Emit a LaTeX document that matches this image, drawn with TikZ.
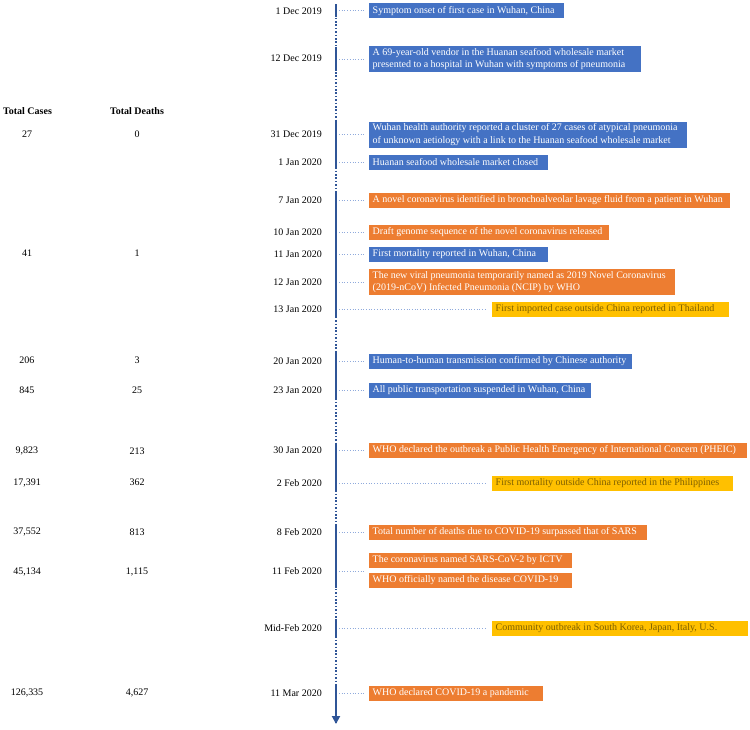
\documentclass[tikz,border=0pt]{standalone}
\usepackage{fontspec}
\setmainfont{Liberation Serif}
\usetikzlibrary{arrows.meta}
\definecolor{evblue}{HTML}{4472C4}
\definecolor{evorange}{HTML}{ED7D31}
\definecolor{evgold}{HTML}{FFC000}
\definecolor{goldtext}{HTML}{7F6000}
\definecolor{axisblue}{HTML}{2F5597}
\definecolor{connblue}{HTML}{8FAADC}
\newcommand{\evline}[2]{\makebox[#1pt][l]{#2}}
\begin{document}
\begin{tikzpicture}[x=1pt,y=-1pt,
 ev/.style={anchor=west, inner xsep=3.5pt, inner ysep=0pt, minimum height=15pt, align=left, font=\fontsize{10}{12.3}\selectfont, text=white},
 evtwo/.style={ev, minimum height=26pt},
 blueev/.style={fill=evblue},
 orangeev/.style={fill=evorange},
 goldev/.style={fill=evgold, text=goldtext},
 datelbl/.style={anchor=east, inner sep=0pt, font=\fontsize{10}{12}\selectfont},
 numlbl/.style={inner sep=0pt, font=\fontsize{10}{12}\selectfont},
 hdr/.style={inner sep=0pt, font=\fontsize{10}{12}\selectfont\bfseries},
 conn/.style={draw=connblue, dotted, line width=0.7pt},
 axisdot/.style={draw=axisblue, line width=2.3pt, dash pattern=on 1.6pt off 1.8pt},
 axissolid/.style={draw=axisblue, line width=2.3pt},
]
\useasboundingbox (0,0) rectangle (750,729);

% axis
\coordinate (top) at (336,4);
\coordinate (bot) at (336,724);
\draw[axisdot] (top) -- (bot);
\draw[axissolid] (336,4) -- (336,17);
\draw[axissolid] (336,47) -- (336,71);
\draw[axissolid] (336,120) -- (336,169);
\draw[axissolid] (336,192) -- (336,317);
\draw[axissolid] (336,352) -- (336,398);
\draw[axissolid] (336,443) -- (336,491);
\draw[axissolid] (336,525) -- (336,588);
\draw[axissolid] (336,621) -- (336,636);
\draw[axissolid, -{Triangle[length=8pt,width=8pt]}] (336,686) -- (bot);

% headers
\node[hdr] (hc) at (27.5,111) {Total Cases};
\node[hdr] (hd) at (137,111) {Total Deaths};

% numbers
\node[numlbl] (c1) at (27,134) {27};      \node[numlbl] (k1) at (137,134) {0};
\node[numlbl] (c2) at (27,253) {41};      \node[numlbl] (k2) at (137,253) {1};
\node[numlbl] (c3) at (27,360) {206};     \node[numlbl] (k3) at (137,360) {3};
\node[numlbl] (c4) at (27,390) {845};     \node[numlbl] (k4) at (137,390) {25};
\node[numlbl] (c5) at (27,451) {9,823};   \node[numlbl] (k5) at (137,451) {213};
\node[numlbl] (c6) at (27,482.5) {17,391};\node[numlbl] (k6) at (137,482.5) {362};
\node[numlbl] (c7) at (27,532) {37,552};  \node[numlbl] (k7) at (137,532) {813};
\node[numlbl] (c8) at (27,571.5) {45,134};\node[numlbl] (k8) at (137,571.5) {1,115};
\node[numlbl] (c9) at (27,692.5) {126,335};\node[numlbl] (k9) at (137,692.5) {4,627};

% dates
\node[datelbl] (d1) at (322,11) {1 Dec 2019};
\node[datelbl] (d2) at (322,58.5) {12 Dec 2019};
\node[datelbl] (d3) at (322,134.5) {31 Dec 2019};
\node[datelbl] (d4) at (322,162) {1 Jan 2020};
\node[datelbl] (d5) at (322,200) {7 Jan 2020};
\node[datelbl] (d6) at (322,232.5) {10 Jan 2020};
\node[datelbl] (d7) at (322,254) {11 Jan 2020};
\node[datelbl] (d8) at (322,282) {12 Jan 2020};
\node[datelbl] (d9) at (322,309) {13 Jan 2020};
\node[datelbl] (d10) at (322,361) {20 Jan 2020};
\node[datelbl] (d11) at (322,390.5) {23 Jan 2020};
\node[datelbl] (d12) at (322,450.5) {30 Jan 2020};
\node[datelbl] (d13) at (322,483.5) {2 Feb 2020};
\node[datelbl] (d14) at (322,532.5) {8 Feb 2020};
\node[datelbl] (d15) at (322,571.5) {11 Feb 2020};
\node[datelbl] (d16) at (322,628.5) {Mid-Feb 2020};
\node[datelbl] (d17) at (322,693.5) {11 Mar 2020};

% events
\node[ev, blueev] (e1) at (369,10.7) {\evline{188}{Symptom onset of first case in Wuhan, China}};
\node[evtwo, blueev] (e2) at (369,59) {\evline{265}{A 69-year-old vendor in the Huanan seafood wholesale market}\\\evline{265}{presented to a hospital in Wuhan with symptoms of pneumonia}};
\node[evtwo, blueev] (e3) at (369,134.5) {\evline{311}{Wuhan health authority reported a cluster of 27 cases of atypical pneumonia}\\\evline{311}{of unknown aetiology with a link to the Huanan seafood wholesale market}};
\node[ev, blueev] (e4) at (369,162) {\evline{172}{Huanan seafood wholesale market closed}};
\node[ev, orangeev] (e5) at (369,200) {\evline{354}{A novel coronavirus identified in bronchoalveolar lavage fluid from a patient in Wuhan}};
\node[ev, orangeev] (e6) at (369,232.5) {\evline{233}{Draft genome sequence of the novel coronavirus released}};
\node[ev, blueev] (e7) at (369,254) {\evline{172}{First mortality reported in Wuhan, China}};
\node[evtwo, orangeev] (e8) at (369,282) {\evline{299}{The new viral pneumonia temporarily named as 2019 Novel Coronavirus}\\\evline{299}{(2019-nCoV) Infected Pneumonia (NCIP) by WHO}};
\node[ev, goldev] (e9) at (492,309) {\evline{230}{First imported case outside China reported in Thailand}};
\node[ev, blueev] (e10) at (369,361) {\evline{256}{Human-to-human transmission confirmed by Chinese authority}};
\node[ev, blueev] (e11) at (369,390.5) {\evline{215}{All public transportation suspended in Wuhan, China}};
\node[ev, orangeev] (e12) at (369,450.5) {\evline{371}{WHO declared the outbreak a Public Health Emergency of International Concern (PHEIC)}};
\node[ev, goldev] (e13) at (492,483.5) {\evline{234}{First mortality outside China reported in the Philippines}};
\node[ev, orangeev] (e14) at (369,532.5) {\evline{271}{Total number of deaths due to COVID-19 surpassed that of SARS}};
\node[ev, orangeev] (e15a) at (369,560.5) {\evline{196}{The coronavirus named SARS-CoV-2 by ICTV}};
\node[ev, orangeev] (e15b) at (369,580.5) {\evline{196}{WHO officially named the disease COVID-19}};
\node[ev, goldev] (e16) at (492,628.5) {\evline{249}{Community outbreak in South Korea, Japan, Italy, U.S.}};
\node[ev, orangeev] (e17) at (369,693.5) {\evline{167}{WHO declared COVID-19 a pandemic}};

% connectors
\foreach \i/\y in {1/10.7,2/59,3/134.5,4/162,5/200,6/232.5,7/254,8/282,9/309,10/361,11/390.5,12/450.5,13/483.5,14/532.5,16/628.5,17/693.5}{
  \coordinate (a\i) at (339,\y);
  \draw[conn] (a\i) -- ([xshift=-5pt]e\i.west);
}
\coordinate (a15) at (339,571.5);
\coordinate (b15) at (364,571.5);
\draw[conn] (a15) -- (b15);
\end{tikzpicture}
\end{document}
